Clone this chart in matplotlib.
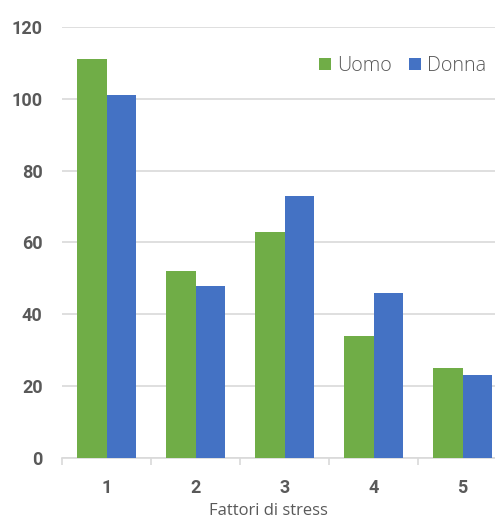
import matplotlib
matplotlib.use("Agg")
import matplotlib.pyplot as plt
import numpy as np

categories = ["1", "2", "3", "4", "5"]
uomo = [111, 52, 63, 34, 25]
donna = [101, 48, 73, 46, 23]
series_names = ["Uomo", "Donna"]
y_ticks = [0, 20, 40, 60, 80, 100, 120]
x_label = "Fattori di stress"

green = "#70AD47"
blue = "#4472C4"
txt = "#595959"
grid_c = "#D9D9D9"

fig = plt.figure(figsize=(4.95, 5.2), dpi=100)
W, H = 495, 520
left, right, top, bottom = 62, 507, 27, 458
ax = fig.add_axes([left / W, 1 - bottom / H, (right - left) / W, (bottom - top) / H])

x = np.arange(len(categories))
bw = 0.332
ax.bar(x - bw / 2, uomo, bw, color=green, label=series_names[0], zorder=3)
ax.bar(x + bw / 2, donna, bw, color=blue, label=series_names[1], zorder=3)

ax.set_xlim(-0.5, len(categories) - 0.5)
ax.set_ylim(0, 120)
ax.set_yticks(y_ticks)
ax.set_xticks(x)
ax.set_xticklabels(categories)
for s in ["top", "right", "left"]:
    ax.spines[s].set_visible(False)
ax.spines["bottom"].set_color(grid_c)
ax.spines["bottom"].set_linewidth(1.2)
ax.yaxis.grid(True, color=grid_c, linewidth=1.2, zorder=0)
ax.tick_params(axis="y", length=0, pad=14, labelcolor=txt)
ax.tick_params(axis="x", length=0, pad=15, labelcolor=txt)
ax.set_xticks(np.arange(-0.5, len(categories), 1), minor=True)
ax.tick_params(axis="x", which="minor", length=5, color=grid_c, width=1.2)

fam = ["Roboto", "DejaVu Sans"]
for lab in ax.get_yticklabels() + ax.get_xticklabels():
    lab.set_fontfamily(fam)
    lab.set_fontweight("bold")
    lab.set_fontsize(13)

fig.text(268 / W, 1 - 511 / H, x_label, color=txt, fontsize=12, ha="center", va="center",
         fontfamily=["Open Sans", "DejaVu Sans"])

leg = ax.legend(loc="upper right", bbox_to_anchor=(442 / 445, 1 - 11 / 431), ncol=2, frameon=False,
                handlelength=0.6, handleheight=0.6, handletextpad=0.3, columnspacing=0.9,
                prop={"family": ["Open Sans", "DejaVu Sans"], "weight": "light", "size": 14.2})
for t in leg.get_texts():
    t.set_color(txt)

fig.savefig("out.png", dpi=100)
